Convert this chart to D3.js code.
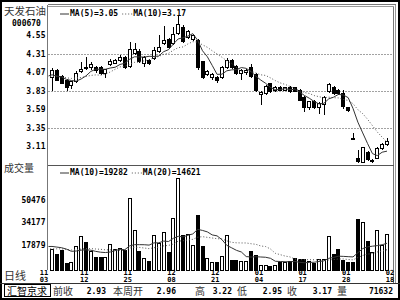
<!DOCTYPE html>
<html>
<head>
<meta charset="utf-8">
<script src="https://cdn.jsdelivr.net/npm/d3@7/dist/d3.min.js"></script>
<style>
  body { margin: 0; background: #fff; }
  text { font-family: "DejaVu Sans Mono", monospace; font-weight: bold; font-size: 8px; fill: #000; }
  text.cn { font-family: "Noto Sans CJK SC", sans-serif; font-weight: normal; }
</style>
</head>
<body>
<div id="chart"></div>
<script>
var w = 400, h = 300;

// daily bars 天发石油 000670
var opens  = [4.00,4.09,4.02,3.97,3.90,3.95,4.08,4.14,4.13,4.14, 4.13,4.06,4.17,4.19,4.22,4.26,4.15,4.32,4.34,4.19,
              4.23,4.25,4.34,4.45,4.50,4.45,4.58,4.66,4.52,4.50, 4.49,4.21,4.04,4.01,4.01,4.01,4.14,4.22,4.15,4.06,
              4.07,4.14,4.04,3.78,3.80,3.93,3.84,3.88,3.84,3.88, 3.87,3.84,3.75,3.62,3.69,3.61,3.66,3.82,3.87,3.84,
              3.80,3.61,3.22,2.96,2.90,3.03,2.91,2.96,3.09,3.14];
var highs  = [4.13,4.12,4.04,3.98,3.96,4.09,4.21,4.27,4.21,4.16, 4.15,4.12,4.25,4.24,4.30,4.28,4.47,4.45,4.37,4.28,
              4.24,4.40,4.56,4.67,4.52,4.66,4.82,4.68,4.62,4.57, 4.51,4.22,4.10,4.06,4.03,4.16,4.26,4.25,4.17,4.12,
              4.11,4.18,4.06,3.83,3.91,3.94,3.89,3.90,3.88,3.89, 3.88,3.85,3.76,3.70,3.71,3.69,3.77,3.93,3.90,3.86,
              3.84,3.62,3.28,3.06,3.10,3.05,2.95,3.10,3.16,3.22];
var lows   = [3.83,3.96,3.92,3.83,3.86,3.94,4.07,4.10,4.10,4.07, 4.04,4.00,4.15,4.18,4.21,4.12,4.13,4.30,4.19,4.14,
              4.17,4.23,4.32,4.43,4.37,4.43,4.56,4.45,4.50,4.48, 4.10,3.99,4.02,3.97,3.93,3.99,4.12,4.12,4.04,3.97,
              4.04,4.00,3.82,3.65,3.78,3.80,3.82,3.83,3.83,3.81, 3.82,3.70,3.56,3.58,3.60,3.53,3.52,3.80,3.78,3.78,
              3.60,3.56,3.21,2.90,2.89,2.92,2.89,2.95,3.07,3.12];
var closes = [4.10,3.97,3.93,3.88,3.95,4.06,4.11,4.13,4.17,4.09, 4.06,4.11,4.21,4.22,4.27,4.14,4.37,4.37,4.21,4.26,
              4.19,4.36,4.40,4.49,4.39,4.56,4.69,4.47,4.60,4.55, 4.13,4.01,4.08,4.04,3.97,4.14,4.23,4.14,4.06,4.10,
              4.09,4.02,3.84,3.81,3.89,3.82,3.88,3.84,3.87,3.83, 3.83,3.71,3.62,3.69,3.62,3.67,3.75,3.91,3.80,3.80,
              3.63,3.58,3.21,2.91,3.10,2.94,2.93,3.08,3.13,3.17];
var volumes = [14700,11300,14200,5000,5700,17000,24100,20000,13700,8700, 8700,8700,18400,14700,15300,14200,51500,28800,13700,8300,
               5900,24800,18900,27100,12300,37300,65700,24800,25500,17700, 39000,17000,8300,5400,5400,9900,24800,7100,7100,5900,
               6000,13500,10600,3500,3500,2300,3500,5400,5400,5900, 8000,7400,7400,5900,4700,7900,7800,24000,11500,15000,
               6600,5400,5400,36200,34500,20788,12300,28200,17900,25532];

// sessions before the first visible bar, only used by the moving averages
var histCloses = [4.00,3.98,4.02,3.97,4.03,4.00,4.05,3.99,4.04,4.02];
var histVolumes = [14000,12000,15000,11000,16000,13000,14500,12500,15500,13000,
                   13500,16000,19000,15500,21000,14800,18000,17500,16500,17000];

var dateIdx = [-3, 6, 15, 24, 33, 42, 51, 60, 69];
var dateMonths = ["11","11","11","12","12","01","01","01","02"];
var dateDays = ["03","12","25","08","21","04","17","28","18"];

var priceTicks = [4.55, 4.31, 4.07, 3.83, 3.59, 3.35, 3.11];
var gridTicks = [4.31, 3.83, 3.35];
var volTicks = [17879, 34177, 50476];

var infoNames = ["前收", "本周开", "高", "低", "收", "量"];
var infoValues = ["2.93", "2.96", "3.22", "2.95", "3.17", "71632"];
var infoNameX = [53, 113, 195, 237, 287, 337];
var infoValueX = [106, 176, 232, 282, 332, 393];

var left = 47.5, right = 393.5;

var svg = d3.select("#chart").append("svg")
    .attr("width", w)
    .attr("height", h)
    .style("display", "block");

svg.append("rect").attr("width", w).attr("height", h).attr("fill", "#fff");

var x = d3.scaleLinear().domain([0, closes.length - 1]).range([52, 387]);
var yP = d3.scaleLinear().domain([3.35, 4.31]).range([128, 54]);
var yV = d3.scaleLinear().domain([0, 50476]).range([270, 200]);

function ma(arr, hist, k, i) {
    var all = hist.concat(arr);
    var end = i + hist.length + 1;
    return d3.mean(all.slice(end - k, end));
}

function maSeries(arr, hist, k) {
    return d3.range(-1, arr.length).map(function(i) {
        return { i: i, v: ma(arr, hist, k, i) };
    });
}

function fmt2(v) { return (Math.round(v * 100) / 100).toFixed(2); }

///////////////// frame ////////////////
var frame = svg.append("g").attr("shape-rendering", "crispEdges");
frame.append("rect").attr("x", 1).attr("y", 1).attr("width", 398).attr("height", 298)
    .attr("fill", "none").attr("stroke", "#000").attr("stroke-width", 2);
frame.append("line").attr("x1", left).attr("x2", left).attr("y1", 4.5).attr("y2", 270).attr("stroke", "#777");
frame.append("line").attr("x1", left).attr("x2", 395.5).attr("y1", 4.5).attr("y2", 4.5).attr("stroke", "#777");
frame.append("line").attr("x1", left).attr("x2", right).attr("y1", 6.5).attr("y2", 6.5).attr("stroke", "#999");
frame.append("line").attr("x1", right).attr("x2", right).attr("y1", 6.5).attr("y2", 283.5).attr("stroke", "#777");
frame.append("line").attr("x1", 395.5).attr("x2", 395.5).attr("y1", 4.5).attr("y2", 283.5).attr("stroke", "#999");
frame.append("line").attr("x1", left).attr("x2", right).attr("y1", 165.5).attr("y2", 165.5).attr("stroke", "#555");
frame.append("line").attr("x1", 0).attr("x2", w).attr("y1", 283.5).attr("y2", 283.5).attr("stroke", "#333");

// dotted grid
svg.selectAll(".grid").data(gridTicks).enter().append("line")
    .attr("class", "grid")
    .attr("x1", left + 1).attr("x2", right)
    .attr("y1", function(d) { return Math.round(yP(d)) + 0.5; })
    .attr("y2", function(d) { return Math.round(yP(d)) + 0.5; })
    .attr("stroke", "#444")
    .attr("stroke-dasharray", "1,2");

///////////////// left labels ////////////////
svg.append("text").attr("class", "cn").attr("x", 4).attr("y", 15)
    .style("font-size", "10.5px").style("fill", "#333").text("天发石油");
svg.append("text").attr("x", 12).attr("y", 25.5).text("000670");

svg.selectAll(".ptick").data(priceTicks).enter().append("text")
    .attr("class", "ptick")
    .attr("x", 45.5)
    .attr("y", function(d) { return yP(d); })
    .attr("dy", "0.36em")
    .attr("text-anchor", "end")
    .text(function(d) { return d.toFixed(2); });

svg.append("text").attr("class", "cn").attr("x", 4).attr("y", 171.5)
    .style("font-size", "10px").style("fill", "#333").text("成交量");

svg.selectAll(".vtick").data(volTicks).enter().append("text")
    .attr("class", "vtick")
    .attr("x", 45.5)
    .attr("y", function(d) { return yV(d); })
    .attr("dy", "0.36em")
    .attr("text-anchor", "end")
    .text(function(d) { return d; });

svg.append("text").attr("class", "cn").attr("x", 4).attr("y", 280)
    .style("font-size", "11px").style("fill", "#333").text("日线");

///////////////// candles ////////////////
var bars = d3.range(closes.length);

var candles = svg.append("g").attr("shape-rendering", "crispEdges");
candles.selectAll(".wick").data(bars).enter().append("line")
    .attr("class", "wick")
    .attr("x1", function(i) { return Math.round(x(i)) + 0.5; })
    .attr("x2", function(i) { return Math.round(x(i)) + 0.5; })
    .attr("y1", function(i) { return yP(highs[i]); })
    .attr("y2", function(i) { return yP(lows[i]); })
    .attr("stroke", "#000");

candles.selectAll(".body").data(bars).enter().append("rect")
    .attr("class", "body")
    .attr("x", function(i) { return Math.round(x(i)) - 1.5; })
    .attr("width", 3)
    .attr("y", function(i) { return yP(Math.max(opens[i], closes[i])); })
    .attr("height", function(i) { return Math.max(1, Math.abs(yP(opens[i]) - yP(closes[i]))); })
    .attr("fill", function(i) { return closes[i] >= opens[i] ? "#fff" : "#000"; })
    .attr("stroke", "#000");

///////////////// volume ////////////////
svg.append("g").attr("shape-rendering", "crispEdges")
    .selectAll("rect").data(bars).enter().append("rect")
    .attr("x", function(i) { return Math.round(x(i)) - 1.5; })
    .attr("width", 3)
    .attr("y", function(i) { return yV(volumes[i]); })
    .attr("height", function(i) { return yV(0) - yV(volumes[i]); })
    .attr("fill", function(i) { return closes[i] >= opens[i] ? "#fff" : "#000"; })
    .attr("stroke", "#000");

///////////////// moving averages ////////////////
var defs = svg.append("defs");
defs.append("clipPath").attr("id", "clipP").append("rect")
    .attr("x", left + 1).attr("y", 7).attr("width", right - left - 1).attr("height", 158);
defs.append("clipPath").attr("id", "clipV").append("rect")
    .attr("x", left + 1).attr("y", 166).attr("width", right - left - 1).attr("height", 104);

var lineP = d3.line().x(function(d) { return x(d.i); }).y(function(d) { return yP(d.v); });
var lineV = d3.line().x(function(d) { return x(d.i); }).y(function(d) { return yV(d.v); });

svg.append("path").attr("clip-path", "url(#clipP)")
    .attr("d", lineP(maSeries(closes, histCloses, 10)))
    .attr("fill", "none").attr("stroke", "#555").attr("stroke-dasharray", "1,2");
svg.append("path").attr("clip-path", "url(#clipP)")
    .attr("d", lineP(maSeries(closes, histCloses, 5)))
    .attr("fill", "none").attr("stroke", "#333");

svg.append("path").attr("clip-path", "url(#clipV)")
    .attr("d", lineV(maSeries(volumes, histVolumes, 20)))
    .attr("fill", "none").attr("stroke", "#555").attr("stroke-dasharray", "1,2");
svg.append("path").attr("clip-path", "url(#clipV)")
    .attr("d", lineV(maSeries(volumes, histVolumes, 10)))
    .attr("fill", "none").attr("stroke", "#333");

///////////////// legends ////////////////
var last = closes.length - 1;
function legend(y, solidText, dotText) {
    var g = svg.append("g");
    g.append("line").attr("x1", 60).attr("x2", 69).attr("y1", y + 0.5).attr("y2", y + 0.5).attr("stroke", "#333");
    g.append("text").attr("x", 70).attr("y", y).attr("dy", "0.36em").text(solidText);
    var x0 = 70 + solidText.length * 4.82 + 4;
    g.append("line").attr("x1", x0).attr("x2", x0 + 10).attr("y1", y + 0.5).attr("y2", y + 0.5)
        .attr("stroke", "#555").attr("stroke-dasharray", "1,2");
    g.append("text").attr("x", x0 + 11).attr("y", y).attr("dy", "0.36em").text(dotText);
}
legend(13.5, "MA(5)=" + fmt2(ma(closes, histCloses, 5, last)), "MA(10)=" + fmt2(ma(closes, histCloses, 10, last)));
legend(172.5, "MA(10)=" + Math.round(ma(volumes, histVolumes, 10, last)), "MA(20)=" + Math.round(ma(volumes, histVolumes, 20, last)));

///////////////// dates ////////////////
var dates = svg.selectAll(".date").data(dateIdx).enter().append("g")
    .attr("class", "date")
    .attr("transform", function(d) { return "translate(" + Math.max(44, x(d) + 3) + ",0)"; });
dates.append("text").attr("y", 272.3).attr("dy", "0.36em").attr("text-anchor", "middle")
    .style("font-size", "7px").text(function(d, i) { return dateMonths[i]; });
dates.append("text").attr("y", 279.3).attr("dy", "0.36em").attr("text-anchor", "middle")
    .style("font-size", "7px").text(function(d, i) { return dateDays[i]; });

///////////////// info bar ////////////////
svg.append("rect").attr("x", 4.5).attr("y", 284.5).attr("width", 46).attr("height", 12)
    .attr("fill", "none").attr("stroke", "#000").attr("shape-rendering", "crispEdges");
svg.append("text").attr("class", "cn").attr("x", 7).attr("y", 294.5)
    .style("font-size", "10px").text("汇智京求");

svg.selectAll(".iname").data(infoNames).enter().append("text")
    .attr("class", "iname cn")
    .attr("x", function(d, i) { return infoNameX[i]; })
    .attr("y", 294.5)
    .style("font-size", "10px").style("fill", "#333")
    .text(function(d) { return d; });
svg.selectAll(".ival").data(infoValues).enter().append("text")
    .attr("class", "ival")
    .attr("x", function(d, i) { return infoValueX[i]; })
    .attr("y", 291)
    .attr("dy", "0.36em")
    .attr("text-anchor", "end")
    .text(function(d) { return d; });
</script>
</body>
</html>
